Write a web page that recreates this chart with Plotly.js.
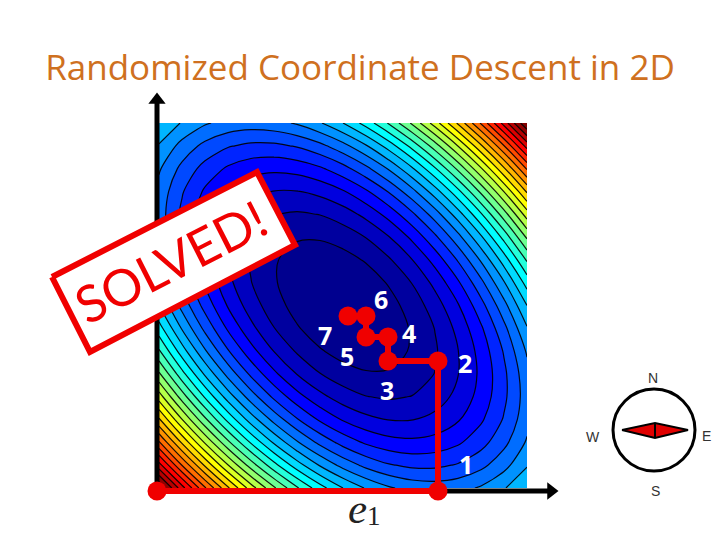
<!DOCTYPE html>
<html>
<head>
<meta charset="utf-8">
<script src="https://cdn.plot.ly/plotly-3.0.1.min.js"></script>
<style>html,body{margin:0;padding:0;background:#fff}#c{width:720px;height:540px}</style>
</head>
<body>
<div id="c"></div>
<script>
var gridX = [-1,-0.875,-0.75,-0.625,-0.5,-0.375,-0.25,-0.125,0,0.125,0.25,0.375,0.5,0.625,0.75,0.875,1];
var gridY = [-1,-0.875,-0.75,-0.625,-0.5,-0.375,-0.25,-0.125,0,0.125,0.25,0.375,0.5,0.625,0.75,0.875,1];
var heights = [
[192,169,148,129,112,97,84,73,64,57,52,49,48,49,52,57,64],
[169,147,127,109,93,79,67,57,49,43,39,37,37,39,43,49,57],
[148,127,108,91,76,63,52,43,36,31,28,27,28,31,36,43,52],
[129,109,91,75,61,49,39,31,25,21,19,19,21,25,31,39,49],
[112,93,76,61,48,37,28,21,16,13,12,13,16,21,28,37,48],
[97,79,63,49,37,27,19,13,9,7,7,9,13,19,27,37,49],
[84,67,52,39,28,19,12,7,4,3,4,7,12,19,28,39,52],
[73,57,43,31,21,13,7,3,1,1,3,7,13,21,31,43,57],
[64,49,36,25,16,9,4,1,0,1,4,9,16,25,36,49,64],
[57,43,31,21,13,7,3,1,1,3,7,13,21,31,43,57,73],
[52,39,28,19,12,7,4,3,4,7,12,19,28,39,52,67,84],
[49,37,27,19,13,9,7,7,9,13,19,27,37,49,63,79,97],
[48,37,28,21,16,13,12,13,16,21,28,37,48,61,76,93,112],
[49,39,31,25,21,19,19,21,25,31,39,49,61,75,91,109,129],
[52,43,36,31,28,27,28,31,36,43,52,63,76,91,108,127,148],
[57,49,43,39,37,37,39,43,49,57,67,79,93,109,127,147,169],
[64,57,52,49,48,49,52,57,64,73,84,97,112,129,148,169,192]
];
var stepX = [157,438,438,388,388,366,366,348];
var stepY = [491,491,361,361,337,337,316,316];
var stepLabels = ["1","2","3","4","5","6","7"];
var stepLabelX = [466,465,387,409,347,381,325];
var stepLabelY = [464,363,390,333,356,299,335];
var stampX = [52,257,295,90,52];
var stampY = [277,172,245,352,277];
var needleX = [622,655,688,655,622];
var needleY = [430,423,430,438,430];
var compassLabels = ["N","S","W","E"];
var compassX = [653,655,593,706];
var compassY = [378,491,437,436];

var jet = [[0,'#00008f'],[0.125,'#0000ff'],[0.375,'#00ffff'],[0.625,'#ffff00'],[0.875,'#ff0000'],[1,'#800000']];

var over = {xaxis:'x2', yaxis:'y2', hoverinfo:'skip', showlegend:false};
function o(t){ return Object.assign({}, over, t); }

var traces = [
  {type:'contour', x:gridX, y:gridY, z:heights, zmin:0, zmax:192, colorscale:jet, showscale:false,
   autocontour:false, contours:{start:6.4,end:192,size:6.4,coloring:'fill',showlines:true},
   line:{color:'rgba(0,0,0,0.9)',width:1.2,smoothing:1}, hoverinfo:'skip'},
  o({type:'scatter',mode:'lines',x:[157,157],y:[491,100],line:{color:'#000',width:5}}),
  o({type:'scatter',mode:'lines',x:[157,550],y:[491,491],line:{color:'#000',width:5}}),
  o({type:'scatter',mode:'markers',x:[157],y:[100],marker:{symbol:'triangle-up',size:15,color:'#000'}}),
  o({type:'scatter',mode:'markers',x:[551],y:[491],marker:{symbol:'triangle-right',size:15,color:'#000'}}),
  o({type:'scatter',mode:'lines',x:stampX,y:stampY,fill:'toself',fillcolor:'#fff',line:{color:'#f00000',width:6}}),
  o({type:'scatter',mode:'lines+markers',x:stepX,y:stepY,line:{color:'#f00000',width:6},marker:{color:'#f00000',size:19}}),
  o({type:'scatter',mode:'lines',x:needleX,y:needleY,fill:'toself',fillcolor:'#e00000',line:{color:'#000',width:2}}),
  o({type:'scatter',mode:'lines',x:[655,655],y:[423,438],line:{color:'#000',width:2}})
];

var annotations = [];
function note(text,x,y,font,angle){
  annotations.push({text:text,x:x,y:y,xref:'x2',yref:'y2',showarrow:false,xanchor:'center',yanchor:'middle',font:font,textangle:angle||0});
}
stepLabels.forEach(function(t,i){
  note('<b>'+t+'</b>',stepLabelX[i],stepLabelY[i],{family:'Open Sans',size:25,color:'#fff'});
});
compassLabels.forEach(function(t,i){
  note(t,compassX[i],compassY[i],{family:'Liberation Sans',size:14,color:'#333'});
});
note('SOLVED!',170,261,{family:'Lato',size:51,color:'#f00000'},-27);
note('<i>e</i>',357,508,{family:'Liberation Serif',size:43,color:'#222'});
note('1',374,516,{family:'Liberation Serif',size:27,color:'#222'});

var layout = {
  width:720,height:540,margin:{l:0,r:0,t:0,b:0},paper_bgcolor:'#fff',plot_bgcolor:'rgba(0,0,0,0)',
  title:{text:'Randomized Coordinate Descent in 2D',x:360/720,xanchor:'center',y:1-68/540,yanchor:'middle',
         font:{family:'Open Sans',size:35,color:'#cf7020'}},
  xaxis:{domain:[159/720,527/720],range:[-1,1],visible:false},
  yaxis:{domain:[1-488/540,1-123/540],range:[-1,1],visible:false},
  xaxis2:{domain:[0,1],range:[0,720],visible:false,anchor:'y2'},
  yaxis2:{domain:[0,1],range:[540,0],visible:false,anchor:'x2'},
  shapes:[{type:'circle',xref:'x2',yref:'y2',x0:613,x1:695,y0:389,y1:471,line:{color:'#000',width:3},fillcolor:'rgba(0,0,0,0)'}],
  annotations:annotations
};
Plotly.newPlot('c',traces,layout,{displayModeBar:false,staticPlot:true});
</script>
</body>
</html>
